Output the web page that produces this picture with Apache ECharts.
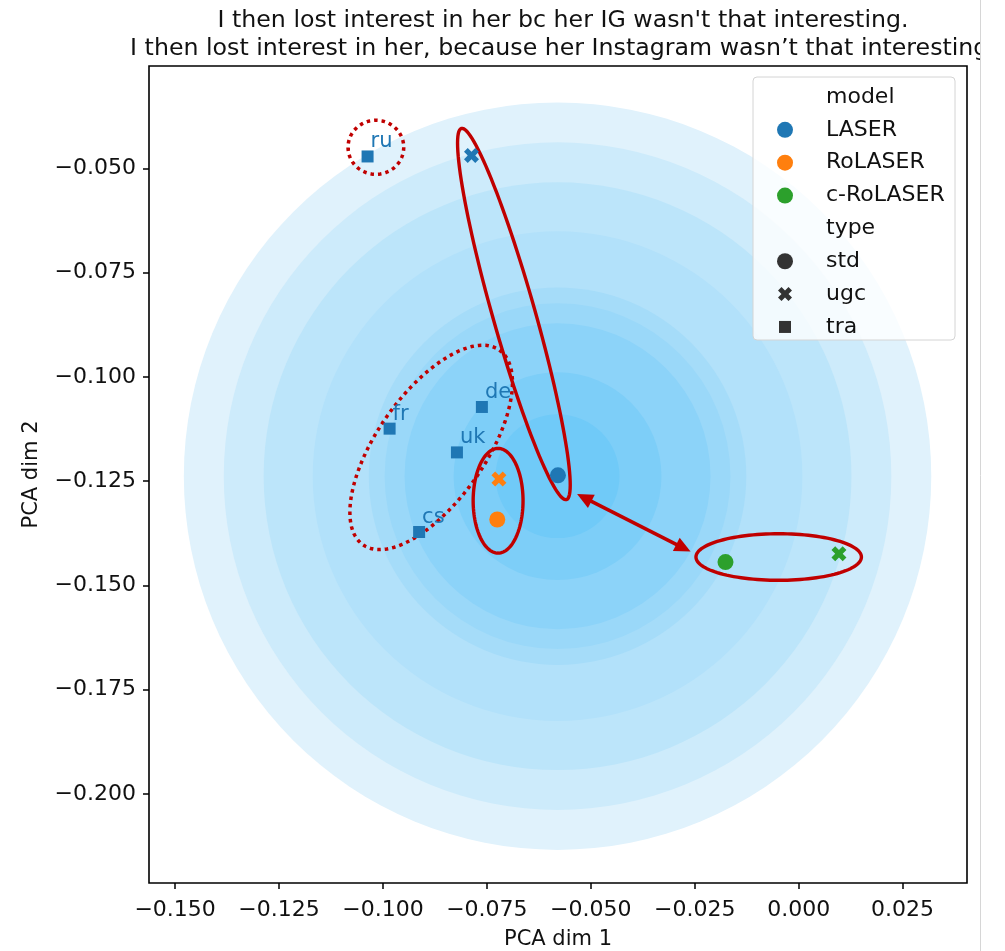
<!DOCTYPE html>
<html lang="en">

<head>
    <meta charset="UTF-8">
    <title>PCA</title>
    <script src="https://cdn.jsdelivr.net/npm/echarts@6/dist/echarts.min.js"></script>
    <style>
        html, body { margin: 0; padding: 0; background: #fff; }
        #chart { width: 1005px; height: 951px; }
    </style>
</head>

<body>
    <div id="chart"></div>
</body>
<script>
    // tick values on both axes
    const xTicks = [-0.150, -0.125, -0.100, -0.075, -0.050, -0.025, 0.000, 0.025]
    const yTicks = [-0.200, -0.175, -0.150, -0.125, -0.100, -0.075, -0.050]

    // points per model: [x, y, type, language]
    const laserPts = [
        [-0.0579, -0.1236, 'std', ''],
        [-0.0787, -0.0469, 'ugc', ''],
        [-0.1037, -0.0471, 'tra', 'ru'],
        [-0.0762, -0.1072, 'tra', 'de'],
        [-0.0984, -0.1124, 'tra', 'fr'],
        [-0.0822, -0.1181, 'tra', 'uk'],
        [-0.0913, -0.1372, 'tra', 'cs']
    ]
    const rolaserPts = [
        [-0.0725, -0.1342, 'std', ''],
        [-0.0721, -0.1245, 'ugc', '']
    ]
    const crolaserPts = [
        [-0.0176, -0.1444, 'std', ''],
        [0.0097, -0.1424, 'ugc', '']
    ]

    const modelNames = ['LASER', 'RoLASER', 'c-RoLASER']
    const modelColors = ['#1f77b4', '#ff7f0e', '#2ca02c']
    const typeNames = ['std', 'ugc', 'tra']

    // density contour (filled rings), radius in data units
    const kdeCenter = [-0.0580, -0.1238]
    const kdeRadii = [0.0899, 0.0803, 0.0707, 0.0589, 0.0454, 0.0416, 0.0368, 0.0250, 0.0149]
    const kdeColors = ['#e0f2fc', '#cdebfb', '#bce5fa', '#b2e1fa', '#a5dcf9', '#9ad8f9', '#8cd3f9', '#7dcef8', '#70caf8']

    // red annotations: [cx, cy, semi-major, semi-minor, screen angle deg, dotted]
    const annoEllipses = [
        [-0.1017, -0.0449, 0.0067, 0.0065, 0, 1],
        [-0.0685, -0.0849, 0.0464, 0.0051, 74.2, 0],
        [-0.0884, -0.1169, 0.0286, 0.0130, -55, 1],
        [-0.0723, -0.1297, 0.0060, 0.0126, 0, 0],
        [-0.0048, -0.1432, 0.0199, 0.0056, 0, 0]
    ]
    const arrowLine = [[-0.0533, -0.1281, -0.0260, -0.1419]]

    const titleLines = [
        "I then lost interest in her bc her IG wasn't that interesting.",
        'I then lost interest in her, because her Instagram wasn\u2019t that interesting.'
    ]

    const red = '#c00000'
    const font = 'DejaVu Sans'
    const crossPts = [[0, 2.5], [2.5, 0], [5, 2.5], [7.5, 0], [10, 2.5], [7.5, 5], [10, 7.5], [7.5, 10], [5, 7.5], [2.5, 10], [0, 7.5], [2.5, 5]]
    const crossPath = 'path://M' + crossPts.map(p => p.join(',')).join(' L') + ' Z'
    const typeSymbol = { std: 'circle', ugc: crossPath, tra: 'rect' }
    const typeSize = { std: 16, ugc: 15, tra: 12 }

    function fmt(v) {
        return (v < -1e-9 ? '\u2212' : '') + Math.abs(v).toFixed(3)
    }

    function pointSeries(name, color, pts) {
        return {
            name: name,
            type: 'scatter',
            z: 5,
            itemStyle: { color: color, opacity: 1 },
            label: {
                show: true,
                formatter: p => p.data.lang,
                position: [9, 2],
                align: 'left',
                verticalAlign: 'bottom',
                color: '#1f77b4',
                fontSize: 21,
                fontFamily: font
            },
            data: pts.map(p => ({
                lang: p[3],
                value: [p[0], p[1]],
                symbol: typeSymbol[p[2]],
                symbolSize: typeSize[p[2]]
            }))
        }
    }

    function ellipsePts(c, a, b, phi) {
        let pts = []
        for (let k = 0; k < 120; k++) {
            let t = k / 120 * Math.PI * 2
            let ex = a * Math.cos(t), ey = b * Math.sin(t)
            pts.push([c[0] + ex * Math.cos(phi) - ey * Math.sin(phi), c[1] + ex * Math.sin(phi) + ey * Math.cos(phi)])
        }
        return pts
    }

    // legend drawn as graphic elements (has header rows without marker)
    function legendGraphic() {
        let rows = [['model', null, null]]
        modelNames.forEach((m, i) => rows.push([m, 'circle', modelColors[i]]))
        rows.push(['type', null, null])
        typeNames.forEach(t => rows.push([t, t, '#333333']))
        let els = [{
            type: 'rect', id: 'lg-bg', z: 50,
            shape: { x: 753, y: 77, width: 202, height: 263, r: 4 },
            style: { fill: 'rgba(255,255,255,0.8)', stroke: '#d4d4d4', lineWidth: 1 }
        }]
        rows.forEach((r, i) => {
            let y = 97 + i * 32.85
            let mx = 785
            els.push({
                type: 'text', id: 'lg-t' + i, z: 51, x: 826, y: y,
                style: { text: r[0], fill: '#111', fontSize: 22, fontFamily: font, verticalAlign: 'middle', align: 'left' }
            })
            if (r[1] === 'circle' || r[1] === 'std') {
                els.push({ type: 'circle', id: 'lg-m' + i, z: 51, shape: { cx: mx, cy: y, r: 8 }, style: { fill: r[2] } })
            } else if (r[1] === 'ugc') {
                let s = 14
                els.push({ type: 'polygon', id: 'lg-m' + i, z: 51, shape: { points: crossPts.map(p => [mx - 7 + p[0] * s / 10, y - 7 + p[1] * s / 10]) }, style: { fill: r[2] } })
            } else if (r[1] === 'tra') {
                els.push({ type: 'rect', id: 'lg-m' + i, z: 51, shape: { x: mx - 6, y: y - 6, width: 12, height: 12 }, style: { fill: r[2] } })
            }
        })
        return els
    }

    let mCharts = echarts.init(document.getElementById('chart'))
    let option = {
        backgroundColor: '#fff',
        animation: false,
        title: {
            text: titleLines.join('\n'),
            left: 558,
            top: 2,
            textAlign: 'center',
            textStyle: { fontSize: 23.7, lineHeight: 28, fontWeight: 'normal', color: '#111', fontFamily: font }
        },
        grid: {
            left: 149, right: 38, top: 66, bottom: 68,
            outerBoundsMode: 'none',
            containLabel: false,
            show: true, borderColor: '#000', borderWidth: 1.6, backgroundColor: '#fff'
        },
        xAxis: {
            type: 'value',
            min: -0.15628,
            max: 0.0405,
            axisLine: { show: false, onZero: false },
            splitLine: { show: false },
            axisTick: { show: true, customValues: xTicks, length: 6, lineStyle: { color: '#000', width: 1.5 } },
            axisLabel: { customValues: xTicks, formatter: fmt, fontSize: 22, color: '#111', margin: 16, fontFamily: font },
            name: 'PCA dim 1',
            nameLocation: 'middle',
            nameGap: 46,
            nameTextStyle: { fontSize: 21, color: '#111', fontFamily: font }
        },
        yAxis: {
            type: 'value',
            min: -0.2214,
            max: -0.0254,
            axisLine: { show: false, onZero: false },
            splitLine: { show: false },
            axisTick: { show: true, customValues: yTicks, length: 6, lineStyle: { color: '#000', width: 1.5 } },
            axisLabel: { customValues: yTicks, formatter: fmt, fontSize: 22, color: '#111', margin: 13, fontFamily: font },
            name: 'PCA dim 2',
            nameLocation: 'middle',
            nameGap: 107,
            nameTextStyle: { fontSize: 21, color: '#111', fontFamily: font }
        },
        series: [{
            type: 'custom',
            z: 1,
            silent: true,
            clip: true,
            data: kdeRadii.map((r, i) => [kdeCenter[0], kdeCenter[1], r, i]),
            renderItem: function(params, api) {
                let c = api.coord([api.value(0), api.value(1)])
                let r = api.size([api.value(2), 0])[0]
                return { type: 'circle', shape: { cx: c[0], cy: c[1], r: r }, style: { fill: kdeColors[api.value(3)] } }
            }
        }, {
            type: 'custom',
            z: 3,
            silent: true,
            data: annoEllipses,
            renderItem: function(params, api) {
                let c = api.coord([api.value(0), api.value(1)])
                let a = api.size([api.value(2), 0])[0]
                let b = api.size([api.value(3), 0])[0]
                let phi = api.value(4) * Math.PI / 180
                let dotted = api.value(5) === 1
                return {
                    type: 'polygon',
                    shape: { points: ellipsePts(c, a, b, phi) },
                    style: { fill: 'none', stroke: red, lineWidth: dotted ? 3.5 : 3.4, lineDash: dotted ? [3.5, 4] : null }
                }
            }
        }, {
            type: 'custom',
            z: 3,
            silent: true,
            data: arrowLine,
            renderItem: function(params, api) {
                let p1 = api.coord([api.value(0), api.value(1)])
                let p2 = api.coord([api.value(2), api.value(3)])
                let dx = p2[0] - p1[0], dy = p2[1] - p1[1]
                let len = Math.hypot(dx, dy)
                let ux = dx / len, uy = dy / len
                let hl = 16, hw = 7.5
                function head(tip, sx, sy) {
                    let bx = tip[0] - sx * hl, by = tip[1] - sy * hl
                    return [[tip[0], tip[1]], [bx - sy * hw, by + sx * hw], [bx + sy * hw, by - sx * hw]]
                }
                return {
                    type: 'group',
                    children: [{
                        type: 'line',
                        shape: { x1: p1[0] + ux * hl * 0.8, y1: p1[1] + uy * hl * 0.8, x2: p2[0] - ux * hl * 0.8, y2: p2[1] - uy * hl * 0.8 },
                        style: { stroke: red, lineWidth: 3.5 }
                    }, {
                        type: 'polygon', shape: { points: head(p2, ux, uy) }, style: { fill: red }
                    }, {
                        type: 'polygon', shape: { points: head(p1, -ux, -uy) }, style: { fill: red }
                    }]
                }
            }
        },
            pointSeries(modelNames[0], modelColors[0], laserPts),
            pointSeries(modelNames[1], modelColors[1], rolaserPts),
            pointSeries(modelNames[2], modelColors[2], crolaserPts)
        ],
        graphic: legendGraphic().concat([
            { type: 'rect', id: 'cover', z: 60, shape: { x: 981, y: 0, width: 24, height: 951 }, style: { fill: '#fff' } },
            { type: 'line', id: 'edge', z: 60, shape: { x1: 980.5, y1: 0, x2: 980.5, y2: 951 }, style: { stroke: '#d6d6d6', lineWidth: 1 } }
        ])
    }
    mCharts.setOption(option)
</script>

</html>
